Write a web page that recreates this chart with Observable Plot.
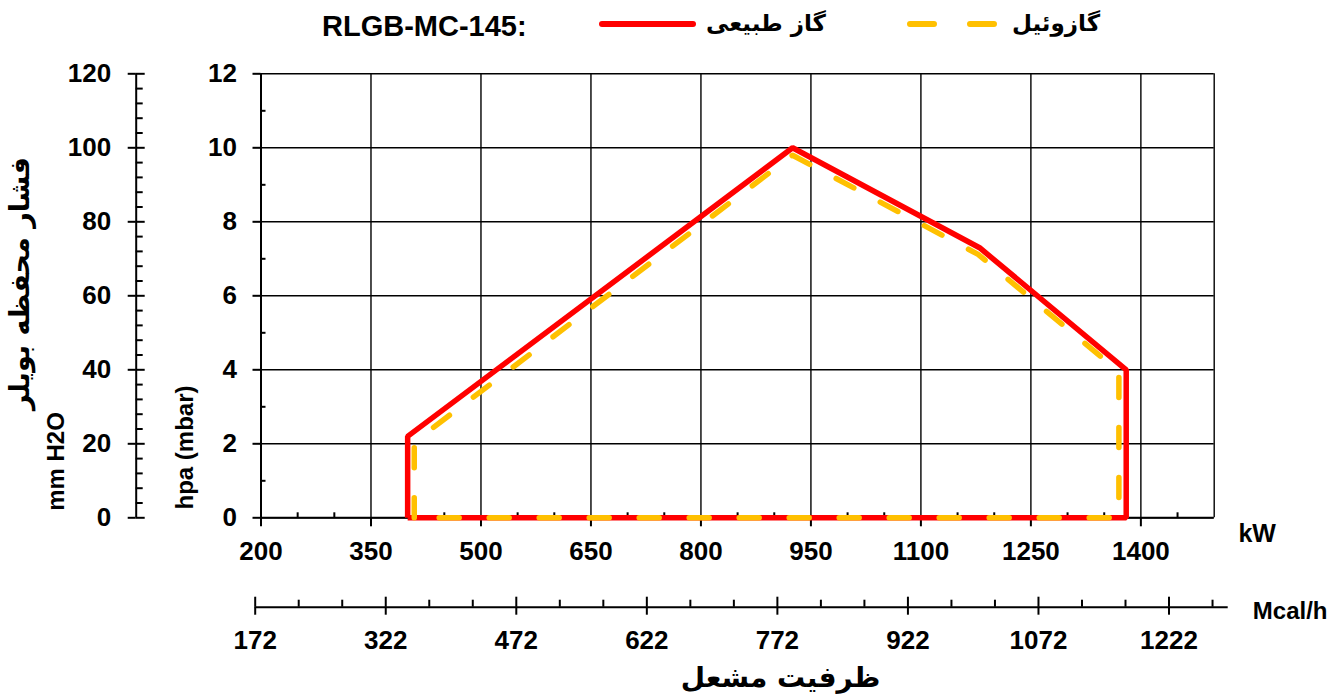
<!DOCTYPE html>
<html>
<head>
<meta charset="utf-8">
<script src="https://cdn.jsdelivr.net/npm/d3@7"></script>
<script src="https://cdn.jsdelivr.net/npm/@observablehq/plot@0.6"></script>
<style>
  body { margin: 0; background: #fff; }
  #wrap { position: relative; width: 1328px; height: 699px; overflow: hidden; font-family: "Liberation Sans", Arial, sans-serif; }
  #main, #mcal, #legend { position: absolute; left: 0; }
  #main { top: 0; }
  #mcal { top: 560px; }
  #legend { top: 0; }
  svg { background: transparent; }
</style>
</head>
<body>
<div id="wrap">
  <div id="main"></div>
  <div id="mcal"></div>
  <div id="legend"></div>
</div>
<script>
// ---------- data ----------
const modelName = "RLGB-MC-145:";
const seriesNames = ["گاز طبیعی", "گازوئیل"];
const seriesColors = ["#ff0000", "#ffc000"];

const gasKW  = [400, 400, 925, 1180, 1380, 1380, 400];
const gasHpa = [0, 2.2, 10, 7.3, 4.0, 0, 0];
const oilKW  = [409, 409, 925, 1178, 1370, 1370, 409];
const oilHpa = [0, 2.05, 9.8, 7.12, 3.95, 0, 0];

const kwDomain = [200, 1500];
const kwTicks = [200, 350, 500, 650, 800, 950, 1100, 1250, 1400];
const kwGrid = [200, 350, 500, 650, 800, 950, 1100, 1250, 1400, 1500];
const kwMinor = [250, 300, 400, 450, 550, 600, 700, 750, 850, 900, 1000, 1050, 1150, 1200, 1300, 1350, 1450];

const hpaDomain = [0, 12];
const hpaTicks = [0, 2, 4, 6, 8, 10, 12];
const hpaMinor = [1, 3, 5, 7, 9, 11];
const mmLabels = ["0", "20", "40", "60", "80", "100", "120"];
const mmMinor = [4, 8, 12, 16, 24, 28, 32, 36, 44, 48, 52, 56, 64, 68, 72, 76, 84, 88, 92, 96, 104, 108, 112, 116];

const mcalDomain = [172, 1290];
const mcalTicks = [172, 322, 472, 622, 772, 922, 1072, 1222];
const mcalMinor = [222, 272, 372, 422, 522, 572, 672, 722, 822, 872, 972, 1022, 1122, 1172, 1272];

const yTitleFa = "فشار محفظه بویلر";
const yUnitMm = "mm H2O";
const yUnitHpa = "hpa (mbar)";
const xUnitKw = "kW";
const xUnitMcal = "Mcal/h";
const xTitleFa = "ظرفیت مشعل";

// ---------- tables ----------
const gas = gasKW.map((k, i) => ({kw: k, hpa: gasHpa[i]}));
const oil = oilKW.map((k, i) => ({kw: k, hpa: oilHpa[i]}));

const FONT = '"Liberation Sans", Arial, sans-serif';
const FA_FONT = '"DejaVu Sans", "Noto Sans", sans-serif';
const TICK_FS = 26;
const W = 1328, H = 699;
const X0 = 260.5, X1 = 1213.7, Y0 = 517.3, Y1 = 73.3;
const YMID = (Y0 + Y1) / 2;
const MM_DX = 135.7 - X0;

const main = Plot.plot({
  width: W, height: H,
  marginLeft: X0, marginRight: W - X1, marginTop: Y1, marginBottom: H - Y0,
  x: {domain: kwDomain, label: null},
  y: {domain: hpaDomain, label: null},
  style: {fontFamily: FONT, fontWeight: "bold", fontSize: TICK_FS + "px", color: "#000", background: "transparent", overflow: "visible"},
  marks: [
    Plot.ruleX(kwGrid, {stroke: "#000", strokeWidth: 1.4}),
    Plot.ruleY(hpaTicks, {stroke: "#000", strokeWidth: 1.4}),
    Plot.ruleX([kwDomain[0]], {stroke: "#000", strokeWidth: 2}),
    Plot.ruleY([0], {stroke: "#000", strokeWidth: 2}),
    // bottom kW axis
    Plot.axisX(kwTicks, {tickSize: 9, tickPadding: 15, tickFormat: "d", fontSize: TICK_FS, fontWeight: "bold", strokeWidth: 2}),
    Plot.axisX(kwMinor, {tickSize: -5, fill: "none", strokeWidth: 2}),
    // main hpa axis
    Plot.axisY(hpaTicks, {tickSize: 8, tickPadding: 16, tickFormat: "d", fontSize: TICK_FS, fontWeight: "bold", strokeWidth: 2}),
    Plot.axisY(hpaMinor, {tickSize: -5, fill: "none", strokeWidth: 2}),
    // mm H2O axis
    Plot.ruleX([kwDomain[0]], {dx: MM_DX, stroke: "#000", strokeWidth: 2}),
    Plot.axisY(hpaTicks, {dx: MM_DX, tickSize: 8, tickPadding: 17, tickFormat: d => mmLabels[hpaTicks.indexOf(d)], fontSize: TICK_FS, fontWeight: "bold", strokeWidth: 2}),
    Plot.axisY(hpaTicks, {dx: MM_DX, tickSize: -9, fill: "none", strokeWidth: 2}),
    Plot.axisY(mmMinor.map(m => m / 10), {dx: MM_DX, tickSize: -7, fill: "none", strokeWidth: 2}),
    // series
    Plot.line(gas, {x: "kw", y: "hpa", stroke: seriesColors[0], strokeWidth: 5.5, strokeLinejoin: "miter", strokeLinecap: "butt"}),
    Plot.line(oil, {x: "kw", y: "hpa", stroke: seriesColors[1], strokeWidth: 5.5, strokeDasharray: "20,30", strokeLinecap: "round", strokeLinejoin: "round"}),
    // labels
    Plot.text([xUnitKw], {text: d => d, frameAnchor: "bottom-right", textAnchor: "middle", lineAnchor: "middle", dx: 43, dy: 16, fontSize: 25, fontWeight: "bold", fontFamily: FONT}),
    Plot.text([yUnitHpa], {text: d => d, frameAnchor: "left", textAnchor: "middle", rotate: -90, dx: 185 - X0, dy: 447 - YMID, fontSize: 24, fontWeight: "bold", fontFamily: FONT}),
    Plot.text([yUnitMm], {text: d => d, frameAnchor: "left", textAnchor: "middle", rotate: -90, dx: 56 - X0, dy: 461 - YMID, fontSize: 24, fontWeight: "bold", fontFamily: FONT}),
    Plot.text([yTitleFa], {text: d => d, frameAnchor: "left", textAnchor: "middle", rotate: -90, dx: 20 - X0, dy: 283 - YMID, fontSize: 27, fontWeight: "bold", fontFamily: FA_FONT})
  ]
});
document.getElementById("main").appendChild(main);

// ---------- Mcal/h axis ----------
const MH = 139, MA = 46.7, ML = 254.7, MR = 1227.7;
const mcal = Plot.plot({
  width: W, height: MH,
  marginLeft: ML, marginRight: W - MR, marginTop: 5, marginBottom: MH - MA,
  x: {domain: mcalDomain, label: null},
  y: {domain: [0, 1], axis: null},
  style: {fontFamily: FONT, fontWeight: "bold", fontSize: TICK_FS + "px", color: "#000", background: "transparent", overflow: "visible"},
  marks: [
    Plot.ruleY([0], {stroke: "#000", strokeWidth: 2}),
    Plot.axisX(mcalTicks, {tickSize: 8, tickPadding: 15, tickFormat: "d", fontSize: TICK_FS, fontWeight: "bold", strokeWidth: 2}),
    Plot.axisX(mcalTicks, {tickSize: -10, fill: "none", strokeWidth: 2}),
    Plot.axisX(mcalMinor, {tickSize: -7, fill: "none", strokeWidth: 2}),
    Plot.text([xUnitMcal], {text: d => d, frameAnchor: "bottom-right", textAnchor: "end", lineAnchor: "middle", dx: 1327 - MR, dy: 4, fontSize: 24, fontWeight: "bold", fontFamily: FONT}),
    Plot.text([xTitleFa], {text: d => d, frameAnchor: "bottom", textAnchor: "middle", lineAnchor: "middle", dx: 780 - (ML + MR) / 2, dy: 678 - 560 - MA, fontSize: 28, fontWeight: "bold", fontFamily: FA_FONT})
  ]
});
document.getElementById("mcal").appendChild(mcal);

// ---------- legend ----------
const lg = d3.select("#legend").append("svg").attr("width", W).attr("height", 50)
  .style("font-family", FONT).style("font-weight", "bold");
lg.append("text").attr("x", 322).attr("y", 36).attr("font-size", 29).text(modelName);
lg.append("line").attr("x1", 602).attr("x2", 693).attr("y1", 24).attr("y2", 24)
  .attr("stroke", seriesColors[0]).attr("stroke-width", 6).attr("stroke-linecap", "round");
lg.append("text").attr("x", 766).attr("y", 31).attr("text-anchor", "middle").attr("font-size", 23)
  .style("font-family", FA_FONT).text(seriesNames[0]);
lg.append("line").attr("x1", 910).attr("x2", 1000).attr("y1", 24).attr("y2", 24)
  .attr("stroke", seriesColors[1]).attr("stroke-width", 6).attr("stroke-linecap", "round")
  .attr("stroke-dasharray", "24,36");
lg.append("text").attr("x", 1056).attr("y", 31).attr("text-anchor", "middle").attr("font-size", 23)
  .style("font-family", FA_FONT).text(seriesNames[1]);
</script>
</body>
</html>
